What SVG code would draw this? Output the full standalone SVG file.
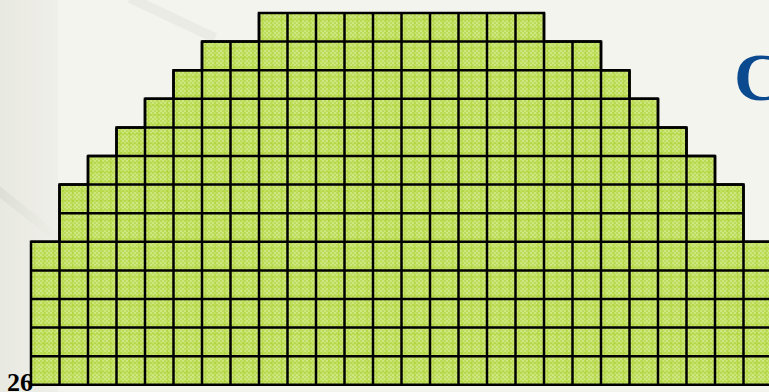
<svg xmlns="http://www.w3.org/2000/svg" width="769" height="392" viewBox="0 0 769 392">
  <defs>
    <linearGradient id="bandG" x1="0" y1="0" x2="1" y2="0">
      <stop offset="0" stop-color="#e8e9e1"/>
      <stop offset="1" stop-color="#efefe9"/>
    </linearGradient>
    <linearGradient id="streakG" x1="0" y1="0" x2="1" y2="0">
      <stop offset="0" stop-color="#d6d7cf" stop-opacity="0.7"/>
      <stop offset="1" stop-color="#e6e7df" stop-opacity="0.1"/>
    </linearGradient>
    <pattern id="checker" width="4" height="4" patternUnits="userSpaceOnUse">
      <rect width="4" height="4" fill="#cfe77f"/>
      <rect x="0" y="0" width="2" height="2" fill="#bddb5c"/>
      <rect x="2" y="2" width="2" height="2" fill="#bddb5c"/>
    </pattern>
    <pattern id="plaid" x="31" y="13" width="9.5" height="9.53" patternUnits="userSpaceOnUse">
      <rect x="3" y="0" width="1.2" height="9.53" fill="#a6cf20" opacity="0.55"/>
      <rect x="0" y="6" width="9.5" height="1.2" fill="#a6cf20" opacity="0.55"/>
    </pattern>
    <style>
      .grid { fill: none; stroke: #000; stroke-width: 2.5; }
      .outline { stroke: #000; stroke-width: 2.5; stroke-linejoin: miter; }
      .num { font-family: "Liberation Serif", "Times New Roman", serif; font-weight: bold; }
    </style>
  </defs>

  <!-- background -->
  <rect width="769" height="392" fill="#f4f4ef"/>
  <rect x="0" y="0" width="58" height="392" fill="url(#bandG)"/>
  <line x1="-5" y1="188" x2="60" y2="240" stroke="url(#streakG)" stroke-width="9"/>
  <line x1="130" y1="-2" x2="215" y2="38" stroke="#e7e8e0" stroke-width="10" opacity="0.7"/>

  <!-- dome of cells -->
  <g id="dome">
    <polygon id="domeFill" fill="url(#checker)" points="259,13 544,13 544,41.6 601,41.6 601,70.2 629.5,70.2 629.5,98.8 658,98.8 658,127.4 686.5,127.4 686.5,156 715,156 715,184.6 743.5,184.6 743.5,241.8 772,241.8 772,384.8 31,384.8 31,241.8 59.5,241.8 59.5,184.6 88,184.6 88,156 116.5,156 116.5,127.4 145,127.4 145,98.8 173.5,98.8 173.5,70.2 202,70.2 202,41.6 259,41.6"/>
    <polygon class="outline" fill="url(#plaid)" points="259,13 544,13 544,41.6 601,41.6 601,70.2 629.5,70.2 629.5,98.8 658,98.8 658,127.4 686.5,127.4 686.5,156 715,156 715,184.6 743.5,184.6 743.5,241.8 772,241.8 772,384.8 31,384.8 31,241.8 59.5,241.8 59.5,184.6 88,184.6 88,156 116.5,156 116.5,127.4 145,127.4 145,98.8 173.5,98.8 173.5,70.2 202,70.2 202,41.6 259,41.6"/>
    <path class="grid" d="
      M202,41.6 H601
      M173.5,70.2 H629.5
      M145,98.8 H658
      M116.5,127.4 H686.5
      M88,156 H715
      M59.5,184.6 H743.5
      M59.5,213.2 H743.5
      M31,241.8 H772
      M31,270.4 H772
      M31,299 H772
      M31,327.6 H772
      M31,356.2 H772
      M59.5,184.6 V384.8
      M88,156 V384.8
      M116.5,127.4 V384.8
      M145,98.8 V384.8
      M173.5,70.2 V384.8
      M202,41.6 V384.8
      M230.5,41.6 V384.8
      M259,13 V384.8
      M287.5,13 V384.8
      M316,13 V384.8
      M344.5,13 V384.8
      M373,13 V384.8
      M401.5,13 V384.8
      M430,13 V384.8
      M458.5,13 V384.8
      M487,13 V384.8
      M515.5,13 V384.8
      M544,13 V384.8
      M572.5,41.6 V384.8
      M601,41.6 V384.8
      M629.5,70.2 V384.8
      M658,98.8 V384.8
      M686.5,127.4 V384.8
      M715,156 V384.8
      M743.5,184.6 V384.8"/>
  </g>

  <!-- texts -->
  <text class="num" x="7" y="391" font-size="26" fill="#000">26</text>
  <text class="num" x="734" y="100" font-size="68" fill="#0b4a8f">C</text>
</svg>
